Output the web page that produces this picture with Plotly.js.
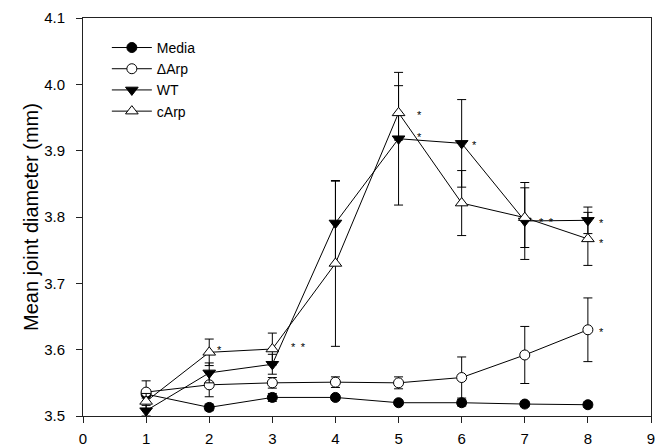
<!DOCTYPE html>
<html>
<head>
<meta charset="utf-8">
<script src="https://cdn.plot.ly/plotly-3.0.1.min.js"></script>
<style>html,body{margin:0;padding:0;background:#fff;}#chart{width:666px;height:446px;}</style>
</head>
<body>
<div id="chart"></div>
<script>
// ---- data ----
const days = [1, 2, 3, 4, 5, 6, 7, 8];

const mediaMean = [3.533, 3.513, 3.528, 3.528, 3.520, 3.520, 3.518, 3.517];
const mediaErr  = [0.006, 0.005, 0.006, 0.004, 0.004, 0.005, 0.004, 0.004];

const dArpMean = [3.536, 3.547, 3.550, 3.551, 3.550, 3.558, 3.592, 3.630];
const dArpErr  = [0.017, 0.018, 0.008, 0.008, 0.009, 0.031, 0.043, 0.048];

const wtMean = [3.508, 3.565, 3.578, 3.791, 3.918, 3.911, 3.794, 3.795];
const wtErr  = [0.008, 0.015, 0.015, 0.063, 0.100, 0.066, 0.058, 0.020];

const cArpMean = [3.522, 3.596, 3.601, 3.730, 3.957, 3.821, 3.799, 3.767];
const cArpErr  = [0.012, 0.020, 0.024, 0.125, 0.041, 0.049, 0.045, 0.040];

const seriesNames = ["Media", "\u0394Arp", "WT", "cArp"];
const xTicks = [0, 1, 2, 3, 4, 5, 6, 7, 8, 9];
const yTicks = [3.5, 3.6, 3.7, 3.8, 3.9, 4.0, 4.1];

// significance marks: [series index, point index, text]
const sigMarks = [
  [3, 1, "*"], [3, 2, "*\u2002*"], [3, 4, "*"], [2, 4, "*"], [2, 5, "*"],
  [2, 6, "*\u2002*"], [2, 7, "*"], [3, 7, "*"], [1, 7, "*"]
];

// ---- styling ----
const means = [mediaMean, dArpMean, wtMean, cArpMean];
const errs = [mediaErr, dArpErr, wtErr, cArpErr];
const symbols = ["circle", "circle", "triangle-down", "triangle-up"];
const fills = ["#000", "#fff", "#000", "#fff"];
const sizes = [10, 10, 11, 11];

const traces = means.map((m, i) => ({
  x: days, y: m, name: seriesNames[i], type: "scatter", mode: "lines+markers",
  line: {color: "#000", width: 1},
  marker: {symbol: symbols[i], size: sizes[i], color: fills[i], line: {color: "#000", width: 1}},
  error_y: {type: "data", array: errs[i], visible: true, color: "#000", thickness: 1, width: 4.5}
}));

// offsets in pixels for the asterisks (style only)
const sigShift = {
  "3-1": [10, 2], "3-2": [26, 2], "3-4": [21, -2], "2-4": [21, 2], "2-5": [13, -2],
  "2-6": [22, -1], "2-7": [14, -3], "3-7": [14, -4], "1-7": [14, -2]
};
const annotations = sigMarks.map(([s, p, t]) => {
  const sh = sigShift[s + "-" + p];
  return {
    x: days[p], y: means[s][p], xref: "x", yref: "y", text: t, showarrow: false,
    xshift: sh[0], yshift: sh[1], font: {family: "Liberation Sans, Arial", size: 11, color: "#000"}
  };
});

const layout = {
  width: 666, height: 446,
  margin: {l: 83, r: 15, t: 18, b: 30},
  paper_bgcolor: "#fff", plot_bgcolor: "#fff",
  font: {family: "Liberation Sans, Arial, sans-serif", size: 15, color: "#000"},
  showlegend: true,
  legend: {x: 0.042, y: 0.965, xanchor: "left", yanchor: "top", bgcolor: "rgba(0,0,0,0)",
           font: {size: 14}, tracegroupgap: 0, itemwidth: 40},
  xaxis: {range: [0, 9], tickvals: xTicks, ticktext: xTicks.map(String), tickfont: {size: 15},
          showgrid: false, zeroline: false, showline: true, linecolor: "#222", linewidth: 1,
          mirror: true, ticks: "outside", ticklen: 6, tickcolor: "#222", ticklabelstandoff: 3},
  yaxis: {range: [3.5, 4.1], tickvals: yTicks, ticktext: yTicks.map(v => v.toFixed(1)), tickfont: {size: 15},
          showgrid: false, zeroline: false, showline: true, linecolor: "#222", linewidth: 1,
          mirror: true, ticks: "outside", ticklen: 6, tickcolor: "#222", ticklabelstandoff: 8,
          title: {text: "Mean joint diameter (mm)", font: {size: 20}, standoff: 0}},
  annotations: annotations
};

Plotly.newPlot("chart", traces, layout, {displayModeBar: false, staticPlot: true});
</script>
</body>
</html>
